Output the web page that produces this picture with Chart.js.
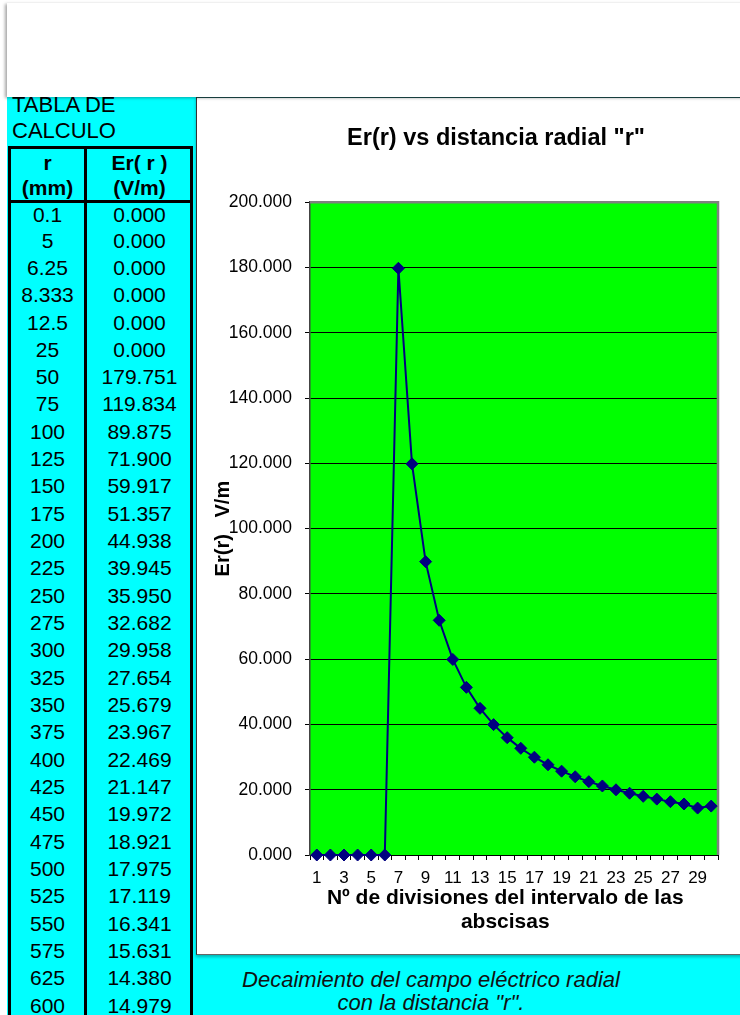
<!DOCTYPE html>
<html>
<head>
<meta charset="utf-8">
<script src="https://cdn.jsdelivr.net/npm/chart.js"></script>
<style>
  body { margin:0; width:740px; height:1015px; overflow:hidden; background:#fff; position:relative;
         font-family:"Liberation Sans", Arial, sans-serif; color:#000; }
  .abs { position:absolute; }
  #cyanLeft { left:7px; top:97px; width:189px; height:918px; background:#00ffff; }
  #cyanBottom { left:7px; top:953px; width:733px; height:62px; background:#00ffff; }
  #topBox { left:7px; top:3px; width:740px; height:94px; background:#fff;
            box-shadow:-2px 1px 3px rgba(0,0,0,0.35); z-index:5; }
  #caption { left:12px; top:92px; font-size:22px; line-height:26px; }
  .vline { background:#000; width:3px; top:146px; height:869px; }
  .hline { background:#000; height:3px; left:8px; width:185px; }
  .cell { font-size:21px; text-align:center; height:27px; line-height:27px; white-space:nowrap; }
  .c1 { left:11px; width:73px; }
  .c2 { left:88px; width:103px; }
  .head { font-weight:bold; line-height:25px; height:50px; }
  #chartBox { left:196px; top:96px; width:560px; height:856px; background:#fff;
              border-top:2px solid #1e4f4f; border-left:1px solid #333; border-bottom:1px solid #666;
              box-shadow:0 2px 3px rgba(0,0,0,0.3); }
  #chartWrap { left:196px; top:97px; width:544px; height:856px; }
  #note { left:200px; width:462px; top:968px; font-style:italic; font-size:22px; line-height:23px;
          text-align:center; color:#111; }
</style>
</head>
<body>
<div id="cyanLeft" class="abs"></div>
<div id="cyanBottom" class="abs"></div>
<div id="caption" class="abs">TABLA DE<br>CALCULO</div>
<div id="table"></div>
<div id="chartBox" class="abs"></div>
<div id="chartWrap" class="abs"><canvas id="myChart"></canvas></div>
<div id="topBox" class="abs"></div>
<div id="note" class="abs">Decaimiento del campo eléctrico radial<br>con la distancia "r".</div>

<script>
// tabla de calculo
var rValues = [0.1, 5, 6.25, 8.333, 12.5, 25, 50, 75, 100, 125, 150, 175, 200, 225, 250,
               275, 300, 325, 350, 375, 400, 425, 450, 475, 500, 525, 550, 575, 625, 600];
var erValues = [0, 0, 0, 0, 0, 0, 179.751, 119.834, 89.875, 71.900, 59.917, 51.357, 44.938,
                39.945, 35.950, 32.682, 29.958, 27.654, 25.679, 23.967, 22.469, 21.147,
                19.972, 18.921, 17.975, 17.119, 16.341, 15.631, 14.380, 14.979];
var divisions = [1, 2, 3, 4, 5, 6, 7, 8, 9, 10, 11, 12, 13, 14, 15,
                 16, 17, 18, 19, 20, 21, 22, 23, 24, 25, 26, 27, 28, 29, 30];
var yTicks = [0, 20, 40, 60, 80, 100, 120, 140, 160, 180, 200];

var html = '';
// header
html += '<div class="abs cell head c1" style="top:149.5px">r<br>(mm)</div>';
html += '<div class="abs cell head c2" style="top:149.5px">Er( r )<br>(V/m)</div>';
for (var i = 0; i < rValues.length; i++) {
  var cy = i === 0 ? 214 : 240 + 27.32 * (i - 1);
  var rowTop = (cy - 13.5).toFixed(1);
  html += '<div class="abs cell c1" style="top:' + rowTop + 'px">' + rValues[i] + '</div>';
  html += '<div class="abs cell c2" style="top:' + rowTop + 'px">' + erValues[i].toFixed(3) + '</div>';
}
// borders
html += '<div class="abs vline" style="left:8px"></div>';
html += '<div class="abs vline" style="left:84px"></div>';
html += '<div class="abs vline" style="left:190px"></div>';
html += '<div class="abs hline" style="top:146px"></div>';
html += '<div class="abs hline" style="top:200px"></div>';
document.getElementById('table').innerHTML = html;

var plotBg = {
  id: 'plotBg',
  beforeDraw: function(chart) {
    var a = chart.chartArea, ctx = chart.ctx;
    ctx.save();
    ctx.fillStyle = '#00ff00';
    ctx.fillRect(a.left, a.top, a.right - a.left, a.bottom - a.top);
    ctx.restore();
  },
  beforeDatasetsDraw: function(chart) {
    var a = chart.chartArea, ctx = chart.ctx;
    ctx.save();
    ctx.strokeStyle = '#808080';
    ctx.lineWidth = 2.5;
    ctx.beginPath();
    ctx.moveTo(a.left, a.top);
    ctx.lineTo(a.right, a.top);
    ctx.lineTo(a.right, a.bottom);
    ctx.stroke();
    ctx.restore();
  },
  afterLayout: function(chart) {
    // excel centers the title on the whole chart object
    if (chart.titleBlock) chart.titleBlock.left += 78;
  }
};

Chart.defaults.font.family = '"Liberation Sans", Arial, sans-serif';
Chart.defaults.color = '#000';

var ctx = document.getElementById('myChart').getContext('2d');
var myChart = new Chart(ctx, {
  type: 'line',
  data: {
    labels: divisions,
    datasets: [{
      data: erValues,
      borderColor: '#000080',
      backgroundColor: '#000080',
      borderWidth: 2,
      tension: 0,
      pointStyle: 'rectRot',
      pointRadius: 6,
      pointBorderWidth: 1,
      pointBackgroundColor: '#000080',
      pointBorderColor: '#000080',
      clip: false
    }]
  },
  options: {
    responsive: true,
    maintainAspectRatio: false,
    animation: false,
    devicePixelRatio: 1,
    layout: { padding: { left: 0, right: 22, top: 0, bottom: 0 } },
    scales: {
      x: {
        offset: true,
        grid: { offset: true, drawOnChartArea: false, drawTicks: true, tickLength: 5, color: '#000' },
        border: { color: '#000', width: 1 },
        ticks: {
          autoSkip: false, maxRotation: 0, minRotation: 0, padding: 8,
          font: { size: 17 },
          callback: function(value, index) { return index % 2 === 0 ? this.getLabelForValue(value) : ''; }
        },
        title: {
          display: true,
          // trailing spaces nudge it left like the excel original
          text: ['Nº de divisiones del intervalo de las   ', 'abscisas   '],
          font: { size: 21, weight: 'bold', lineHeight: 1.15 },
          padding: { top: 0, bottom: 19 }
        },
        afterFit: function(scale) { scale.height = 98; }
      },
      y: {
        min: 0,
        max: 200,
        afterBuildTicks: function(scale) { scale.ticks = yTicks.map(function(v) { return { value: v }; }); },
        grid: { color: '#000', lineWidth: 1, tickLength: 5 },
        border: { color: '#444', width: 1.5 },
        ticks: {
          padding: 13,
          font: { size: 17.5 },
          callback: function(v) { return v.toFixed(3); }
        },
        title: {
          display: true,
          text: 'Er(r)   V/m',
          font: { size: 20, weight: 'bold' },
          padding: { top: 15, bottom: 0 }
        },
        afterFit: function(scale) { scale.width = 114; }
      }
    },
    plugins: {
      legend: { display: false },
      tooltip: { enabled: false },
      title: {
        display: true,
        text: 'Er(r) vs distancia radial "r"',
        font: { size: 23.5, weight: 'bold' },
        padding: { top: 27, bottom: 50 }
      }
    }
  },
  plugins: [plotBg]
});
</script>
</body>
</html>
